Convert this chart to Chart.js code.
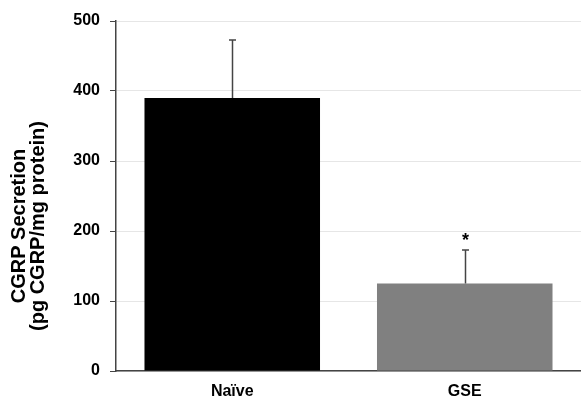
<!DOCTYPE html>
<html>
<head>
<meta charset="utf-8">
<script src="https://cdn.jsdelivr.net/npm/chart.js@4"></script>
<style>
  html, body { margin: 0; padding: 0; background: #fff; }
  #wrap { width: 581px; height: 399px; }
</style>
</head>
<body>
<div id="wrap"><canvas id="chart"></canvas></div>
<script>
const categories = ["Naïve", "GSE"];
const secretion = [390, 125];
const errorUp = [83, 48];
const significance = ["", "*"];
const barColors = ["#000000", "#808080"];
const yTitle = ["CGRP Secretion", "(pg CGRP/mg protein)"];

const FONT = "'Liberation Sans', Arial, sans-serif";

const errorBars = {
  id: 'errorBars',
  afterDatasetsDraw(chart) {
    const ctx = chart.ctx;
    const meta = chart.getDatasetMeta(0);
    const y = chart.scales.y;
    ctx.save();
    ctx.strokeStyle = "#444";
    ctx.lineWidth = 1.5;
    meta.data.forEach((bar, i) => {
      const x = Math.round(bar.x) + 0.5;
      const top = y.getPixelForValue(secretion[i] + errorUp[i]);
      ctx.beginPath();
      ctx.moveTo(x, bar.y);
      ctx.lineTo(x, top);
      ctx.moveTo(x - 3.5, top);
      ctx.lineTo(x + 3.5, top);
      ctx.stroke();
      if (significance[i]) {
        ctx.fillStyle = "#000";
        ctx.font = "bold 18px " + FONT;
        ctx.textAlign = "center";
        ctx.textBaseline = "middle";
        ctx.fillText(significance[i], x, top - 9);
      }
    });
    ctx.restore();
  }
};

const sideTitle = {
  id: 'sideTitle',
  afterDraw(chart) {
    const ctx = chart.ctx;
    ctx.save();
    ctx.translate(29, 226);
    ctx.rotate(-Math.PI / 2);
    ctx.fillStyle = "#000";
    ctx.font = "bold 20px " + FONT;
    ctx.textAlign = "center";
    ctx.textBaseline = "middle";
    ctx.fillText(yTitle[0], 0, -9.5);
    ctx.fillText(yTitle[1], 0, 9.5);
    ctx.restore();
  }
};

new Chart(document.getElementById("chart"), {
  type: 'bar',
  data: {
    labels: categories,
    datasets: [{
      data: secretion,
      backgroundColor: barColors,
      borderWidth: 0,
      categoryPercentage: 1,
      barPercentage: 0.755
    }]
  },
  options: {
    responsive: true,
    maintainAspectRatio: false,
    animation: false,
    layout: { padding: { left: 0, right: 0, top: 21, bottom: 0 } },
    plugins: { legend: { display: false }, tooltip: { enabled: false } },
    scales: {
      x: {
        afterFit: (s) => { s.height = 28; },
        grid: { display: false },
        border: { color: "#444", width: 1.5 },
        ticks: {
          color: "#000",
          padding: 3,
          font: { family: FONT, size: 16, weight: 'bold' }
        }
      },
      y: {
        min: 0,
        max: 500,
        afterFit: (s) => { s.width = 116; },
        ticks: {
          stepSize: 100,
          color: "#000",
          padding: 10,
          font: { family: FONT, size: 16, weight: 'bold' }
        },
        grid: { color: "#e6e6e6", tickColor: "#444", tickLength: 6 },
        border: { color: "#444", width: 1.5 }
      }
    }
  },
  plugins: [errorBars, sideTitle]
});
</script>
</body>
</html>
